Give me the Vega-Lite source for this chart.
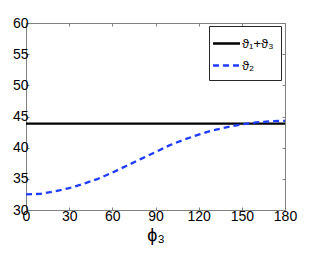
{
  "$schema": "https://vega.github.io/schema/vega-lite/v6.json",
  "width": 259,
  "height": 187,
  "autosize": {"type": "none"},
  "padding": {"left": 26, "top": 23, "right": 31, "bottom": 44},
  "background": "white",
  "config": {
    "font": "Liberation Sans",
    "view": {"stroke": "#808080", "strokeWidth": 1},
    "axis": {
      "domain": false,
      "grid": false,
      "tickColor": "#808080",
      "tickSize": -3,
      "labelFontSize": 14,
      "labelColor": "#000000",
      "labelFont": "Liberation Sans",
      "titleFont": "Liberation Sans",
      "titleFontWeight": "normal",
      "titleColor": "#000000"
    }
  },
  "data": {
    "values": [
      {"phi": 0, "value": 43.85, "series": "ϑ₁+ϑ₃"},
      {"phi": 180, "value": 43.85, "series": "ϑ₁+ϑ₃"},
      {"phi": 0, "value": 32.5, "series": "ϑ₂"},
      {"phi": 10, "value": 32.6, "series": "ϑ₂"},
      {"phi": 20, "value": 33.0, "series": "ϑ₂"},
      {"phi": 30, "value": 33.5, "series": "ϑ₂"},
      {"phi": 40, "value": 34.2, "series": "ϑ₂"},
      {"phi": 50, "value": 35.0, "series": "ϑ₂"},
      {"phi": 60, "value": 36.0, "series": "ϑ₂"},
      {"phi": 70, "value": 37.1, "series": "ϑ₂"},
      {"phi": 80, "value": 38.2, "series": "ϑ₂"},
      {"phi": 90, "value": 39.3, "series": "ϑ₂"},
      {"phi": 100, "value": 40.4, "series": "ϑ₂"},
      {"phi": 110, "value": 41.3, "series": "ϑ₂"},
      {"phi": 120, "value": 42.1, "series": "ϑ₂"},
      {"phi": 130, "value": 42.8, "series": "ϑ₂"},
      {"phi": 140, "value": 43.3, "series": "ϑ₂"},
      {"phi": 150, "value": 43.75, "series": "ϑ₂"},
      {"phi": 160, "value": 44.05, "series": "ϑ₂"},
      {"phi": 170, "value": 44.25, "series": "ϑ₂"},
      {"phi": 180, "value": 44.3, "series": "ϑ₂"}
    ]
  },
  "layer": [
    {
      "mark": {"type": "line", "strokeWidth": 2.3, "clip": true},
      "encoding": {
        "x": {
          "field": "phi",
          "type": "quantitative",
          "scale": {"domain": [0, 180], "nice": false, "zero": false},
          "axis": {
            "orient": "bottom",
            "values": [0, 30, 60, 90, 120, 150, 180],
            "title": "ϕ₃",
            "titleFontSize": 18,
            "titlePadding": 3,
            "labelPadding": 2,
            "labelFlush": false
          }
        },
        "y": {
          "field": "value",
          "type": "quantitative",
          "scale": {"domain": [30, 60], "nice": false, "zero": false},
          "axis": {
            "orient": "left",
            "values": [30, 35, 40, 45, 50, 55, 60],
            "title": null,
            "labelPadding": 1,
            "labelFlush": false
          }
        },
        "color": {
          "field": "series",
          "type": "nominal",
          "scale": {"domain": ["ϑ₁+ϑ₃", "ϑ₂"], "range": ["#000000", "#1f3cff"]},
          "legend": {
            "title": null,
            "orient": "none",
            "legendX": 183,
            "legendY": 3,
            "strokeColor": "#262626",
            "fillColor": "#ffffff",
            "padding": 7,
            "symbolType": "M-1.5,0H1.5",
            "symbolSize": 324,
            "symbolStrokeWidth": 2.3,
            "labelFontSize": 13,
            "labelFont": "Liberation Sans",
            "labelColor": "#000000",
            "labelOffset": 5,
            "rowPadding": 4,
            "cornerRadius": 0
          }
        },
        "strokeDash": {
          "field": "series",
          "type": "nominal",
          "scale": {"domain": ["ϑ₁+ϑ₃", "ϑ₂"], "range": [[1, 0], [6, 4]]},
          "legend": {
            "title": null,
            "orient": "none",
            "legendX": 183,
            "legendY": 3,
            "strokeColor": "#262626",
            "fillColor": "#ffffff",
            "padding": 7,
            "symbolType": "M-1.5,0H1.5",
            "symbolSize": 324,
            "symbolStrokeWidth": 2.3,
            "labelFontSize": 13,
            "labelFont": "Liberation Sans",
            "labelColor": "#000000",
            "labelOffset": 5,
            "rowPadding": 4,
            "cornerRadius": 0
          }
        }
      }
    },
    {
      "mark": {"type": "point", "opacity": 0},
      "encoding": {
        "x": {
          "field": "phi",
          "type": "quantitative",
          "axis": {"orient": "top", "values": [0, 30, 60, 90, 120, 150, 180], "labels": false, "title": null}
        },
        "y": {
          "field": "value",
          "type": "quantitative",
          "axis": {"orient": "right", "values": [30, 35, 40, 45, 50, 55, 60], "labels": false, "title": null}
        }
      }
    }
  ],
  "resolve": {"axis": {"x": "independent", "y": "independent"}}
}
